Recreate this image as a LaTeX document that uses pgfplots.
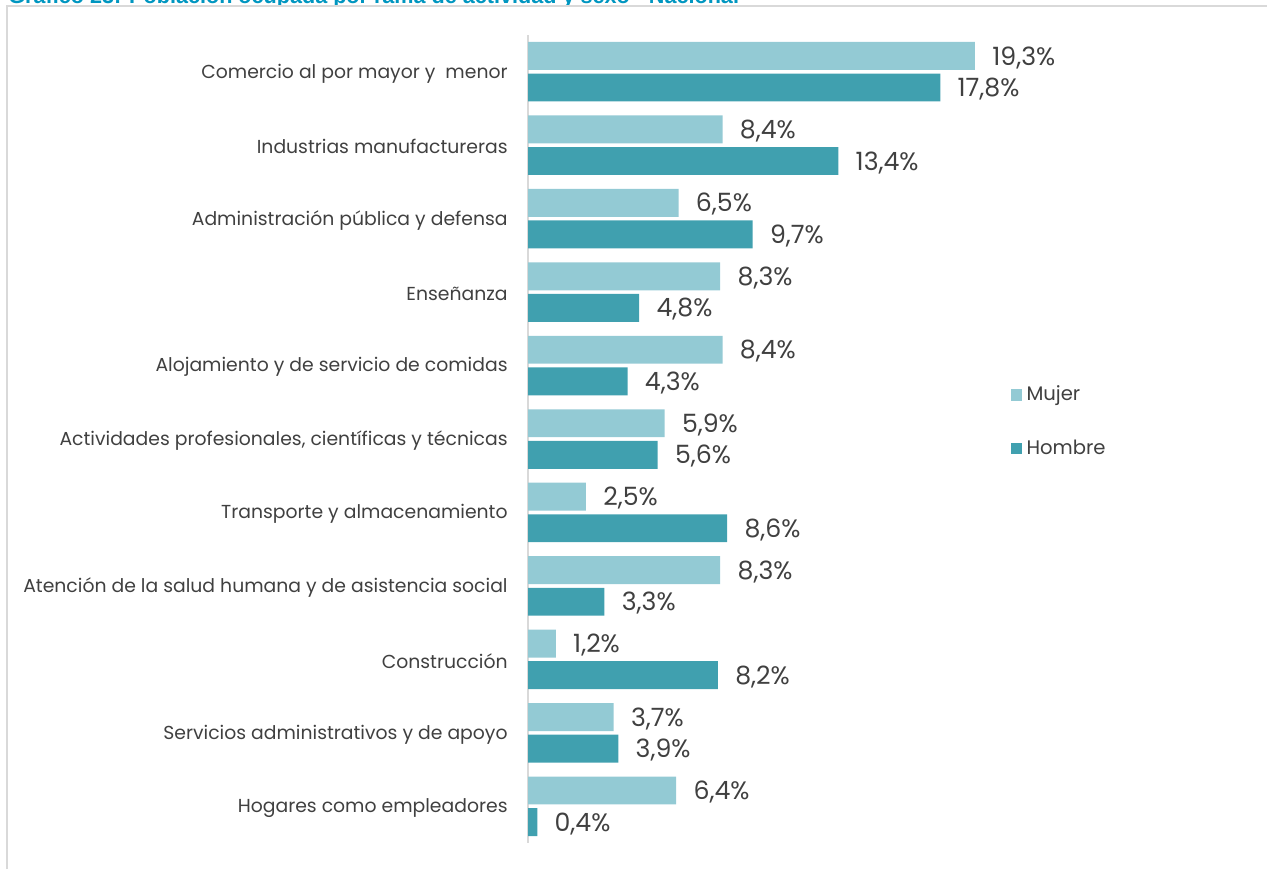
\documentclass[border=0pt]{standalone}
\usepackage{pgfplots}
\pgfplotsset{compat=1.18}
\usepackage{fontspec}
\setmainfont{Poppins}
\newfontfamily\titlefont{Liberation Sans}
\definecolor{mujer}{RGB}{147,202,212}
\definecolor{hombre}{RGB}{64,160,175}
\definecolor{txt}{RGB}{64,64,64}
\definecolor{titleblue}{RGB}{0,150,192}
\definecolor{frame}{RGB}{217,217,217}

\pgfplotstableread{
y mujer hombre
0.5 19.3 17.8
1.5 8.4 13.4
2.5 6.5 9.7
3.5 8.3 4.8
4.5 8.4 4.3
5.5 5.9 5.6
6.5 2.5 8.6
7.5 8.3 3.3
8.5 1.2 8.2
9.5 3.7 3.9
10.5 6.4 0.4
}\datatable

\begin{document}
\begin{tikzpicture}
\useasboundingbox (0,0) rectangle (633.5pt,434.5pt);
\draw[frame, line width=1pt] (3.5pt,0pt) -- (3.5pt,431.5pt) -- (633.5pt,431.5pt);
\begin{scope}
\clip (0,432pt) rectangle (633.5pt,434.5pt);
\node[anchor=base west, inner sep=0pt, text=titleblue, font=\titlefont\bfseries\fontsize{10.8}{13}\selectfont] at (4pt,432.6pt) {Gráfico 23: Población ocupada por rama de actividad y sexo - Nacional};
\end{scope}
\begin{axis}[
  at={(264pt,13pt)}, anchor=south west,
  scale only axis, width=347.4pt, height=404pt,
  xmin=0, xmax=30, ymin=0, ymax=11, y dir=reverse,
  xbar, bar width=0.38,
  axis lines*=left,
  x axis line style={draw=none},
  y axis line style={draw=frame, line width=0.8pt, -},
  xtick=\empty,
  ytick={0.5,1.5,...,10.5},
  yticklabels={Comercio al por mayor y \ menor, Industrias manufactureras, Administración pública y defensa, Enseñanza, Alojamiento y de servicio de comidas, {Actividades profesionales, científicas y técnicas}, Transporte y almacenamiento, Atención de la salud humana y de asistencia social, Construcción, Servicios administrativos y de apoyo, Hogares como empleadores},
  major tick length=0pt,
  yticklabel style={inner sep=0pt, xshift=-10pt, yshift=-0.8pt, text=txt, font=\fontsize{9.4}{11}\selectfont},
  nodes near coords={\pgfmathprintnumber[fixed,fixed zerofill,precision=1,use comma,assume math mode=true]{\pgfplotspointmeta}\%},
  every node near coord/.append style={anchor=west, inner sep=0pt, xshift=8.5pt, yshift=-0.8pt, text=txt, font=\fontsize{12.6}{14}\selectfont},
  legend style={at={(0.695,0.571)}, anchor=north west, draw=none, fill=none, text=txt, font=\fontsize{9.8}{11}\selectfont, row sep=14pt, inner sep=0pt},
  legend cell align=left,
  legend image code/.code={\fill[#1] (0pt,-2.8pt) rectangle (5.6pt,2.8pt);},
  clip=false,
]
\addplot[fill=mujer, draw=none, bar shift=-0.215] table[x=mujer,y=y]{\datatable};
\addlegendentry{Mujer}
\addplot[fill=hombre, draw=none, bar shift=0.215] table[x=hombre,y=y]{\datatable};
\addlegendentry{Hombre}
\end{axis}
\end{tikzpicture}
\end{document}
